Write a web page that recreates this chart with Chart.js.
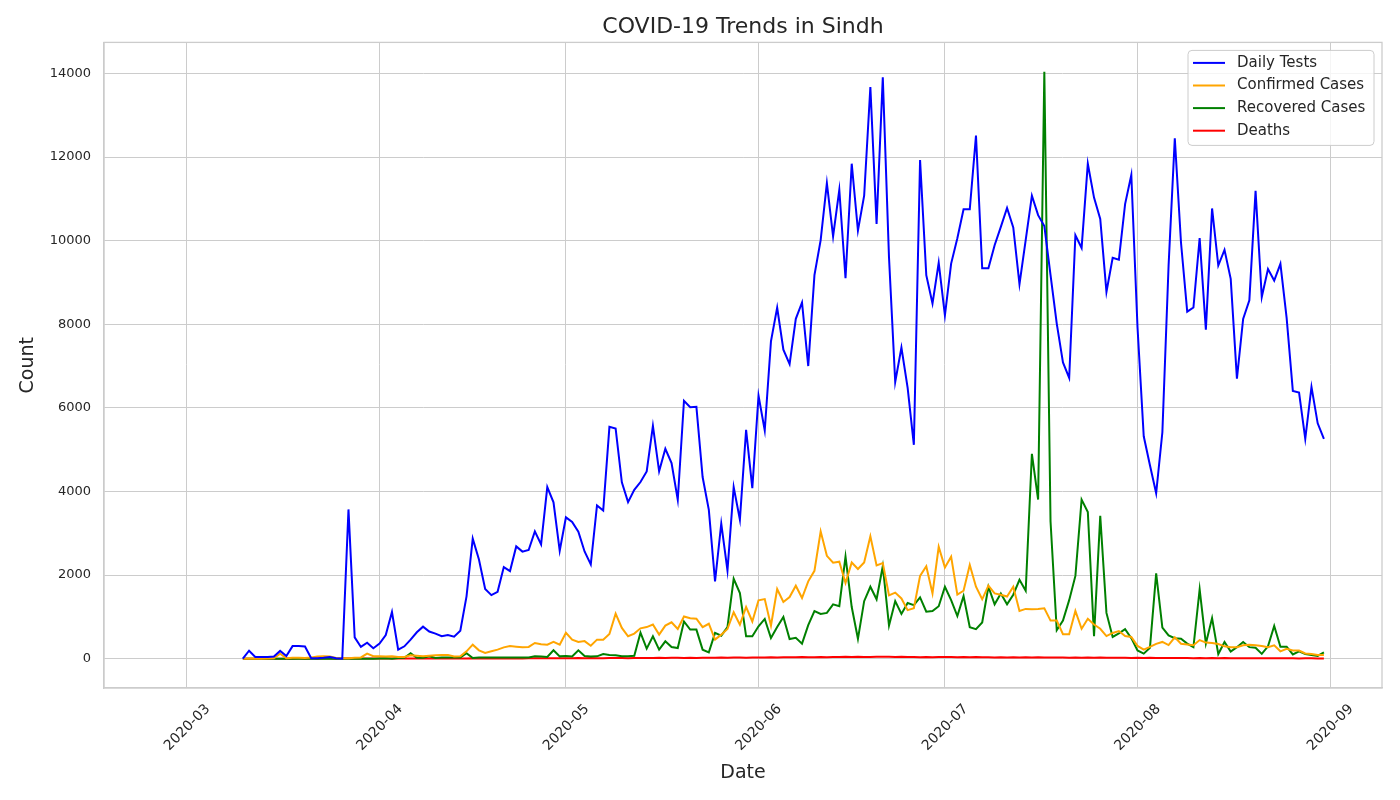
<!DOCTYPE html>
<html>
<head>
<meta charset="utf-8">
<title>COVID-19 Trends in Sindh</title>
<script src="https://cdn.jsdelivr.net/npm/chart.js@4.4.1/dist/chart.umd.min.js"></script>
<style>
  html, body { margin: 0; padding: 0; background: #fff; }
  #chart { display: block; }
</style>
</head>
<body>
<canvas id="chart" width="1400" height="800"></canvas>
<script>
// one value per day, starting 2020-03-10 and ending 2020-08-31
const FIRST_DAY = "2020-03-10";

const dailyTests = [
  0, 190, 40, 40, 40, 50, 185, 65, 300, 300,
  290, 10, 10, 20, 40, 10, 0, 3570, 510, 280,
  380, 250, 360, 565, 1115, 215, 295, 455, 630, 765,
  650, 600, 535, 565, 525, 670, 1490, 2870, 2370, 1665,
  1520, 1600, 2190, 2095, 2685, 2560, 2600, 3045, 2735, 4105,
  3740, 2580, 3380, 3270, 3035, 2565, 2255, 3665, 3545, 5545,
  5505, 4220, 3745, 4040, 4225, 4480, 5570, 4480, 5020, 4680,
  3800, 6170, 6015, 6025, 4345, 3560, 1850, 3230, 2110, 4105,
  3325, 5475, 4080, 6290, 5460, 7590, 8400, 7390, 7045, 8130,
  8520, 7000, 9175, 10010, 11375, 10100, 11215, 9100, 11840, 10240,
  11075, 13675, 10400, 13910, 9600, 6620, 7440, 6480, 5115, 11930,
  9175, 8495, 9470, 8215, 9450, 10055, 10750, 10750, 12515, 9340,
  9340, 9890, 10330, 10780, 10315, 8960, 10010, 11075, 10610, 10350,
  9175, 8015, 7085, 6715, 10130, 9825, 11840, 11030, 10520, 8775,
  9590, 9545, 10875, 11570, 7920, 5320, 4625, 3955, 5415, 9405,
  12450, 9950, 8300, 8400, 10060, 7870, 10770, 9405, 9780, 9085,
  6700, 8125, 8570, 11190, 8650, 9320, 9045, 9445, 8150, 6405,
  6365, 5260, 6500, 5630, 5260
];

const confirmedCases = [
  0, 5, 0, 0, 5, 10, 120, 10, 20, 20,
  15, 30, 50, 55, 50, 15, 10, 10, 20, 30,
  120, 60, 60, 50, 55, 40, 40, 80, 70, 60,
  70, 80, 90, 90, 50, 55, 175, 335, 200, 135,
  175, 215, 270, 300, 285, 270, 280, 375, 345, 335,
  400, 335, 620, 455, 400, 420, 310, 455, 455, 590,
  1075, 735, 535, 600, 725, 755, 815, 575, 790, 870,
  710, 1010, 965, 955, 755, 835, 455, 575, 710, 1110,
  815, 1235, 890, 1395, 1425, 790, 1665, 1355, 1475, 1745,
  1450, 1850, 2100, 3045, 2460, 2295, 2320, 1810, 2300, 2145,
  2300, 2925, 2230, 2285, 1515, 1580, 1440, 1160, 1205, 1980,
  2210, 1560, 2675, 2180, 2440, 1530, 1625, 2240, 1720, 1420,
  1745, 1560, 1530, 1485, 1720, 1140, 1190, 1180, 1190, 1205,
  910, 910, 585, 585, 1140, 715, 955, 815, 715, 540,
  615, 660, 540, 520, 305, 215, 280, 355, 400, 325,
  510, 355, 340, 320, 445, 385, 375, 350, 295, 275,
  275, 320, 335, 320, 300, 275, 320, 175, 235, 195,
  195, 125, 110, 90, 90
];

const recoveredCases = [
  0, 0, 0, 0, 0, 0, 0, 0, 0, 0,
  0, 0, 0, 0, 0, 0, 0, 0, 0, 0,
  0, 0, 5, 10, 0, 15, 20, 130, 20, 20,
  55, 15, 25, 25, 25, 25, 130, 15, 30, 30,
  30, 30, 30, 30, 30, 30, 30, 55, 50, 40,
  200, 55, 65, 50, 200, 65, 50, 55, 110, 90,
  80, 60, 55, 70, 620, 240, 535, 215, 415, 280,
  255, 890, 695, 695, 215, 150, 615, 550, 755, 1910,
  1570, 535, 535, 775, 950, 495, 755, 995, 470, 500,
  360, 800, 1140, 1070, 1095, 1300, 1255, 2440, 1235, 475,
  1375, 1720, 1420, 2210, 790, 1375, 1070, 1330, 1280, 1465,
  1125, 1140, 1255, 1720, 1400, 1020, 1495, 750, 705, 865,
  1720, 1300, 1560, 1300, 1530, 1885, 1625, 4900, 3805, 14040,
  3280, 680, 910, 1400, 1980, 3805, 3510, 540, 3415, 1095,
  520, 605, 705, 490, 195, 120, 260, 2040, 745, 555,
  490, 475, 360, 275, 1660, 360, 970, 110, 400, 170,
  275, 400, 275, 260, 115, 295, 780, 285, 285, 100,
  175, 110, 85, 65, 150
];

const deaths = [
  0, 0, 0, 0, 0, 0, 0, 0, 0, 1,
  0, 1, 0, 1, 2, 0, 1, 2, 1, 3,
  2, 1, 2, 3, 2, 4, 3, 5, 2, 4,
  6, 3, 5, 4, 6, 5, 3, 7, 5, 6,
  8, 4, 7, 6, 9, 5, 8, 10, 7, 9,
  11, 8, 12, 10, 13, 9, 14, 12, 11, 15,
  13, 16, 12, 18, 14, 17, 15, 20, 16, 19,
  22, 17, 21, 18, 24, 20, 23, 26, 21, 25,
  28, 22, 27, 30, 28, 32, 29, 35, 31, 34,
  38, 33, 36, 40, 35, 42, 38, 44, 37, 45,
  41, 39, 46, 43, 48, 40, 44, 38, 42, 36,
  41, 35, 39, 37, 40, 34, 38, 33, 37, 31,
  36, 30, 34, 29, 33, 28, 32, 27, 31, 26,
  30, 25, 29, 24, 28, 23, 27, 22, 25, 21,
  24, 19, 22, 18, 20, 17, 19, 15, 18, 14,
  16, 13, 17, 12, 15, 11, 14, 10, 13, 9,
  12, 8, 11, 7, 10, 9, 8, 10, 7, 9,
  6, 8, 7, 5, 6
];

const monthTicks = ["2020-03", "2020-04", "2020-05", "2020-06", "2020-07", "2020-08", "2020-09"];
const countTicks = [0, 2000, 4000, 6000, 8000, 10000, 12000, 14000];

const DAY_MS = 86400000;
const ORIGIN = Date.parse("2020-03-01");
const dayNumber = iso => (Date.parse(iso) - ORIGIN) / DAY_MS;
const firstIndex = dayNumber(FIRST_DAY);
const monthPos = monthTicks.map(m => dayNumber(m + "-01"));

const toPoints = values => values.map((v, i) => ({ x: firstIndex + i, y: v }));

const FONT = "'DejaVu Sans', 'Liberation Sans', sans-serif";
const TEXT = "#262626";
const GRID = "#cccccc";

const series = [
  { label: "Daily Tests", values: dailyTests, color: "#0000ff" },
  { label: "Confirmed Cases", values: confirmedCases, color: "#ffa500" },
  { label: "Recovered Cases", values: recoveredCases, color: "#008000" },
  { label: "Deaths", values: deaths, color: "#ff0000" }
];

// full frame around the plot (top and right spines too)
const frame = {
  id: "frame",
  afterDatasetsDraw(chart) {
    const { ctx, chartArea: a } = chart;
    ctx.save();
    ctx.strokeStyle = GRID;
    ctx.lineWidth = 1.3;
    ctx.strokeRect(a.left, a.top, a.right - a.left, a.bottom - a.top);
    ctx.restore();
  }
};

// legend box drawn inside the plot, upper right
const insideLegend = {
  id: "insideLegend",
  afterDraw(chart) {
    const ctx = chart.ctx;
    const area = chart.chartArea;
    const w = 186, h = 95;
    const x = area.right - 8 - w;
    const y = area.top + 8;
    ctx.save();
    ctx.beginPath();
    ctx.roundRect(x, y, w, h, 4);
    ctx.fillStyle = "rgba(255,255,255,0.8)";
    ctx.fill();
    ctx.strokeStyle = GRID;
    ctx.lineWidth = 1;
    ctx.stroke();
    ctx.font = "15px " + FONT;
    ctx.textBaseline = "middle";
    ctx.textAlign = "left";
    series.forEach((s, i) => {
      const ry = y + 12.5 + i * 22.6;
      ctx.beginPath();
      ctx.moveTo(x + 5, ry);
      ctx.lineTo(x + 37, ry);
      ctx.strokeStyle = s.color;
      ctx.lineWidth = 2;
      ctx.stroke();
      ctx.fillStyle = TEXT;
      ctx.fillText(s.label, x + 49, ry);
    });
    ctx.restore();
  }
};

new Chart(document.getElementById("chart"), {
  type: "line",
  data: {
    datasets: series.map(s => ({
      label: s.label,
      data: toPoints(s.values),
      borderColor: s.color,
      backgroundColor: s.color,
      borderWidth: 2,
      pointRadius: 0,
      tension: 0,
      fill: false
    }))
  },
  options: {
    responsive: false,
    animation: false,
    devicePixelRatio: 1,
    layout: { padding: { left: 0, right: 18, top: 0, bottom: 0 } },
    plugins: {
      legend: { display: false },
      tooltip: { enabled: false },
      title: {
        display: true,
        fullSize: false,
        text: "COVID-19 Trends in Sindh",
        color: TEXT,
        font: { family: FONT, size: 22, weight: "normal", lineHeight: 1.2 },
        padding: { top: 14, bottom: 2 }
      }
    },
    scales: {
      x: {
        type: "linear",
        min: -13.35,
        max: 192.35,
        afterBuildTicks: scale => { scale.ticks = monthPos.map(v => ({ value: v })); },
        afterFit: scale => { scale.height = 112; },
        ticks: {
          autoSkip: false,
          maxRotation: 45,
          minRotation: 45,
          padding: 13,
          labelOffset: 21,
          color: TEXT,
          font: { family: FONT, size: 14 },
          callback: value => monthTicks[monthPos.indexOf(value)] || ""
        },
        grid: { color: GRID, lineWidth: 1, drawTicks: false },
        border: { color: GRID, width: 1.3 },
        title: {
          display: true,
          text: "Date",
          color: TEXT,
          font: { family: FONT, size: 19, lineHeight: 1.2 },
          padding: { top: 4, bottom: 16 }
        }
      },
      y: {
        min: -702,
        max: 14742,
        afterBuildTicks: scale => { scale.ticks = countTicks.map(v => ({ value: v })); },
        afterFit: scale => { scale.width = 104; },
        ticks: {
          padding: 13,
          color: TEXT,
          font: { family: FONT, size: 13 },
          callback: value => String(value)
        },
        grid: { color: GRID, lineWidth: 1, drawTicks: false },
        border: { color: GRID, width: 1.3 },
        title: {
          display: true,
          text: "Count",
          color: TEXT,
          font: { family: FONT, size: 19, lineHeight: 1.2 },
          padding: { top: 17, bottom: 0 }
        }
      }
    }
  },
  plugins: [frame, insideLegend]
});
</script>
</body>
</html>
